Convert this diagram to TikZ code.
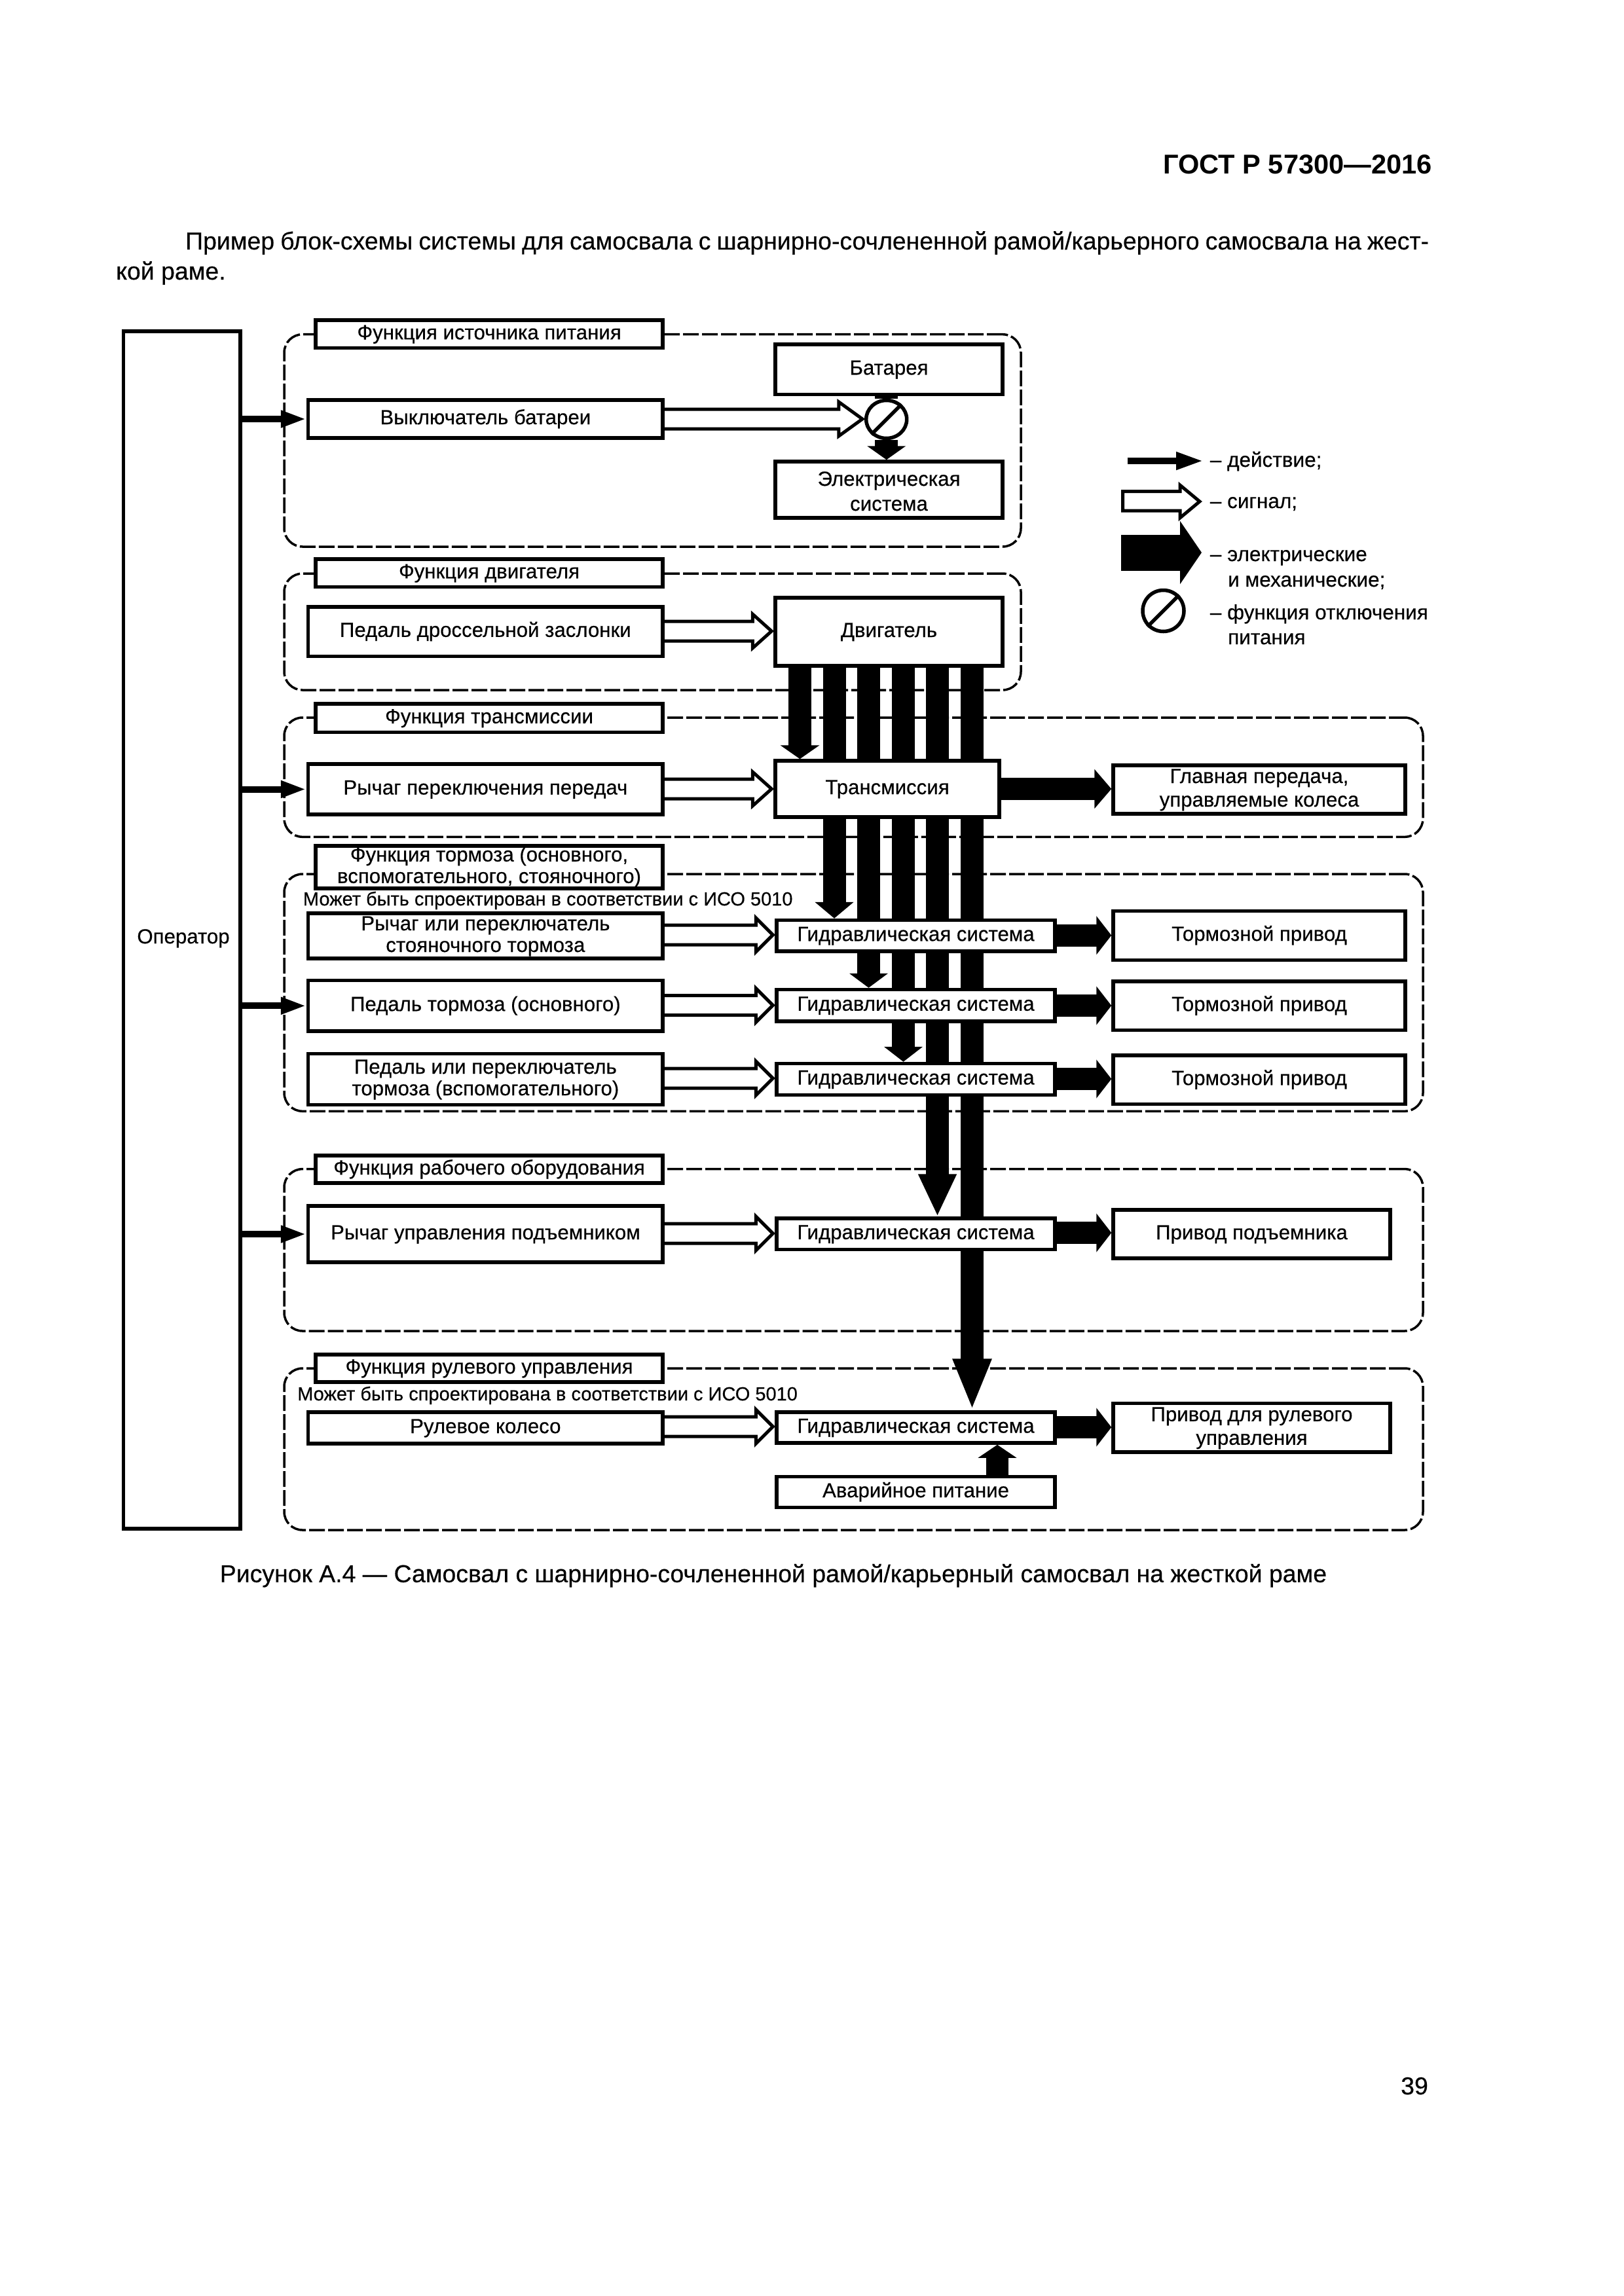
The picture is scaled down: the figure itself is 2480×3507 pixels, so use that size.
\documentclass[tikz,border=0pt]{standalone}
\usepackage{fontspec}
\setmainfont{Liberation Sans}
\newfontfamily\df[FakeBold=0.4]{Liberation Sans}
\usetikzlibrary{arrows.meta,shapes.geometric,calc}
\pgfdeclarelayer{back}
\pgfsetlayers{back,main}
\def\st{\vrule height 24pt depth 8pt width 0pt\relax}
\def\stlow{\vrule height 34pt depth 0pt width 0pt\relax}
\newcommand\dfs{\df\fontsize{31.2}{33}\selectfont}
\newcommand\pgs{\df\fontsize{37.4}{46}\selectfont}
\tikzset{
 boxn/.style={draw=black,fill=white,line width=5.5pt,rectangle,inner sep=0pt,align=center,font=\dfs},
 grp/.style={draw=black,line width=3.5pt,rectangle,inner sep=0pt,rounded corners=28pt,dash pattern=on 24pt off 5pt},
 actn/.style={line width=10pt,-{Triangle[length=39pt,width=24pt]}},
 sigl/.style={draw=black,fill=white,line width=5pt,line join=miter},
 busb/.style={line width=35pt},
 thk/.style={line width=34pt,-{Triangle[length=23pt,width=58pt]}},
 lbl/.style={inner sep=0pt,font=\dfs},
 nt/.style={inner sep=0pt,font=\df\fontsize{29}{33}\selectfont},
 lgd/.style={inner sep=0pt,font=\df\fontsize{31.5}{33}\selectfont},
 offc/.style={draw=black,fill=white,ellipse,line width=5.5pt,inner sep=0pt},
 pgt/.style={inner sep=0pt,font=\pgs},
}
\newcommand\bx[6]{\node[boxn,minimum width={(#4-#2)*1pt},minimum height={(#5-#3)*1pt}] (#1) at ({(#2+#4)/2},{(#3+#5)/2}) {\st #6};}
\newcommand\gp[5]{\node[grp,minimum width={(#4-#2)*1pt},minimum height={(#5-#3)*1pt}] (#1) at ({(#2+#4)/2},{(#3+#5)/2}) {};}
\newcommand\act[2]{\draw[actn] (op.east |- #1.west) -- (#1.west);}
\newcommand\sig[5]{\draw[sigl] let \p1=(#1.east |- 0,#3), \p2=(#2.west |- 0,#3) in
 (\x1,\y1+15pt) -- (\x2-#4pt,\y1+15pt) -- (\x2-#4pt,\y1+#5pt) -- (\x2-3pt,\y1) -- (\x2-#4pt,\y1-#5pt) -- (\x2-#4pt,\y1-15pt) -- (\x1,\y1-15pt);}
\newcommand\bus[4]{\draw[busb,-{Triangle[length=#3pt,width=#4pt]}] (eng.south -| #1,0) -- (#2.north -| #1,0);}
\newcommand\thick[3]{\draw[thk] (#1.east |- 0,#3) -- (#2.west |- 0,#3);}
\begin{document}
\begin{tikzpicture}[x=1pt,y=-1pt]
\useasboundingbox (0,0) rectangle (2480,3507);
% page text
\node[anchor=base east,inner sep=0pt,font=\fontsize{41.6}{46}\selectfont\bfseries] (hdr) at (2187,265.7) {ГОСТ Р 57300—2016};
\node[pgt,anchor=base west] (p1) at (283,381) {\makebox[1899pt][s]{Пример блок-схемы системы для самосвала с шарнирно-сочлененной рамой/карьерного самосвала на жест-}};
\node[pgt,anchor=base west] (p2) at (177,427) {кой раме.};
\node[pgt,anchor=base] (cap) at (1181,2416.7) {Рисунок А.4 — Самосвал с шарнирно-сочлененной рамой/карьерный самосвал на жесткой раме};
\node[pgt,anchor=base east] (pg) at (2181,3199) {39};
% boxes
\bx{op}{188.7}{506}{367}{2335}{}
\bx{sw}{470.7}{611}{1012}{669}{Выключатель батареи}
\bx{ped}{470.7}{927}{1012}{1002.5}{Педаль дроссельной заслонки}
\bx{gear}{470.7}{1167}{1012}{1244}{Рычаг переключения передач}
\bx{pb}{470.7}{1395}{1012}{1464}{Рычаг или переключатель\\\st стояночного тормоза}
\bx{bp}{470.7}{1497.5}{1012}{1575}{Педаль тормоза (основного)}
\bx{sb}{470.7}{1609.5}{1012}{1687.5}{Педаль или переключатель\\\st тормоза (вспомогательного)}
\bx{lift}{470.7}{1842}{1012}{1928}{Рычаг управления подъемником}
\bx{wheel}{470.7}{2157}{1012}{2205}{Рулевое колесо}
\bx{bat}{1184}{526}{1531}{602.5}{Батарея}
\bx{elec}{1184}{705}{1531}{791}{\stlow Электрическая\\[5pt]\st система}
\bx{eng}{1184}{913}{1531}{1017}{Двигатель}
\bx{tr}{1184}{1162}{1526}{1248}{Трансмиссия}
\bx{h1}{1186}{1405.5}{1611}{1453}{Гидравлическая система}
\bx{h2}{1186}{1511.5}{1611}{1560}{Гидравлическая система}
\bx{h3}{1186}{1624.5}{1611}{1672.5}{Гидравлическая система}
\bx{h4}{1186}{1861}{1611}{1908.5}{Гидравлическая система}
\bx{h5}{1186}{2157}{1611}{2204}{Гидравлическая система}
\bx{em}{1186}{2255.5}{1611}{2302.5}{Аварийное питание}
\bx{drive}{1700}{1169}{2146}{1243}{Главная передача,\\[3pt]\st управляемые колеса}
\bx{r1}{1700}{1391.5}{2146}{1466.5}{Тормозной привод}
\bx{r2}{1700}{1499}{2146}{1573.5}{Тормозной привод}
\bx{r3}{1700}{1612}{2146}{1686.5}{Тормозной привод}
\bx{rl}{1700}{1848}{2123}{1922}{Привод подъемника}
\bx{rs}{1700}{2143.5}{2123}{2218}{Привод для рулевого\\[3pt]\st управления}
\bx{t1}{482}{489}{1012}{531.7}{Функция источника питания}
\bx{t2}{482}{854}{1012}{896.5}{Функция двигателя}
\bx{t3}{482}{1075}{1012}{1118.5}{Функция трансмиссии}
\bx{t4}{482}{1293}{1012}{1355.5}{Функция тормоза (основного,\\\st вспомогательного, стояночного)}
\bx{t5}{482}{1765}{1012}{1807}{Функция рабочего оборудования}
\bx{t6}{482}{2069}{1012}{2111}{Функция рулевого управления}
\node[offc,minimum width=62pt,minimum height=58pt] (cut) at (1353.7,640.5) {};
\draw[line width=5.5pt] (cut.45) -- (cut.225);
% labels
\node[lbl,anchor=base] (oplab) at (280,1441) {Оператор};
\node[nt,anchor=base west] (n1) at (462.7,1383) {Может быть спроектирован в соответствии с ИСО 5010};
\node[nt,anchor=base west] (n2) at (454,2139) {Может быть спроектирована в соответствии с ИСО 5010};
% legend
\coordinate (la) at (1721.7,704); \coordinate (lb) at (1838,704);
\draw[line width=10pt,-{Triangle[length=42pt,width=25pt]}] (la) -- (lb);
\draw[sigl] (1714.5,750.5) -- (1802,750.5) -- (1802,741) -- (1832,766) -- (1802,791) -- (1802,780) -- (1714.5,780) -- cycle;
\coordinate (lc) at (1712,844); \coordinate (ld) at (1835,844);
\draw[line width=55pt,-{Triangle[length=33pt,width=95pt]}] (lc) -- (ld);
\node[offc,minimum width=63pt,minimum height=63pt] (lo) at (1776.5,933) {};
\draw[line width=5.5pt] (lo.45) -- (lo.225);
\node[lgd,anchor=base west] (l1) at (1847.7,713) {– действие;};
\node[lgd,anchor=base west] (l2) at (1847.7,776) {– сигнал;};
\node[lgd,anchor=base west] (l3) at (1847.7,857) {– электрические};
\node[lgd,anchor=base west] (l3b) at (1875,896) {и механические;};
\node[lgd,anchor=base west] (l4) at (1847.7,946) {– функция отключения};
\node[lgd,anchor=base west] (l4b) at (1875,984) {питания};
% everything behind the boxes
\begin{pgfonlayer}{back}
\fill[white] (0,0) rectangle (2480,3507);
\gp{g1}{434}{510.7}{1559}{835}
\gp{g2}{434}{876}{1559}{1054}
\gp{g3}{434}{1096}{2173}{1278.3}
\gp{g4}{434}{1335}{2173}{1697.3}
\gp{g5}{434}{1785.6}{2173}{2033}
\gp{g6}{434}{2090}{2173}{2337}
\draw[busb] (cut.north |- bat.south) -- (cut.north);
\draw[busb,-{Triangle[length=21pt,width=58pt]}] (cut.south) -- (cut.south |- elec.north);
\bus{1221.5}{tr}{21}{59}
\bus{1274}{h1}{25}{58}
\bus{1326.5}{h2}{22}{58}
\bus{1379.5}{h3}{23}{58}
\bus{1431.5}{h4}{65}{54}
\bus{1484.5}{h5}{79}{54}
\draw[line width=34pt,-{Triangle[length=20pt,width=58pt]}] (em.north -| 1523,0) -- (h5.south -| 1523,0);
\sig{sw}{cut}{640}{39}{26}
\sig{ped}{eng}{964}{32}{26}
\sig{gear}{tr}{1205}{32}{26}
\sig{pb}{h1}{1428}{29}{26}
\sig{bp}{h2}{1535.5}{29}{26}
\sig{sb}{h3}{1647}{29}{26}
\sig{lift}{h4}{1884}{29}{26}
\sig{wheel}{h5}{2179}{29}{26}
\draw[thk,-{Triangle[length=26pt,width=59pt]}] (tr.east |- 0,1205) -- (drive.west |- 0,1205);
\thick{h1}{r1}{1428.7}
\thick{h2}{r2}{1536}
\thick{h3}{r3}{1648}
\thick{h4}{rl}{1883}
\thick{h5}{rs}{2180}
\act{sw}\act{ped}\act{gear}\act{pb}\act{bp}\act{sb}\act{lift}\act{wheel}
\end{pgfonlayer}
\end{tikzpicture}
\end{document}
